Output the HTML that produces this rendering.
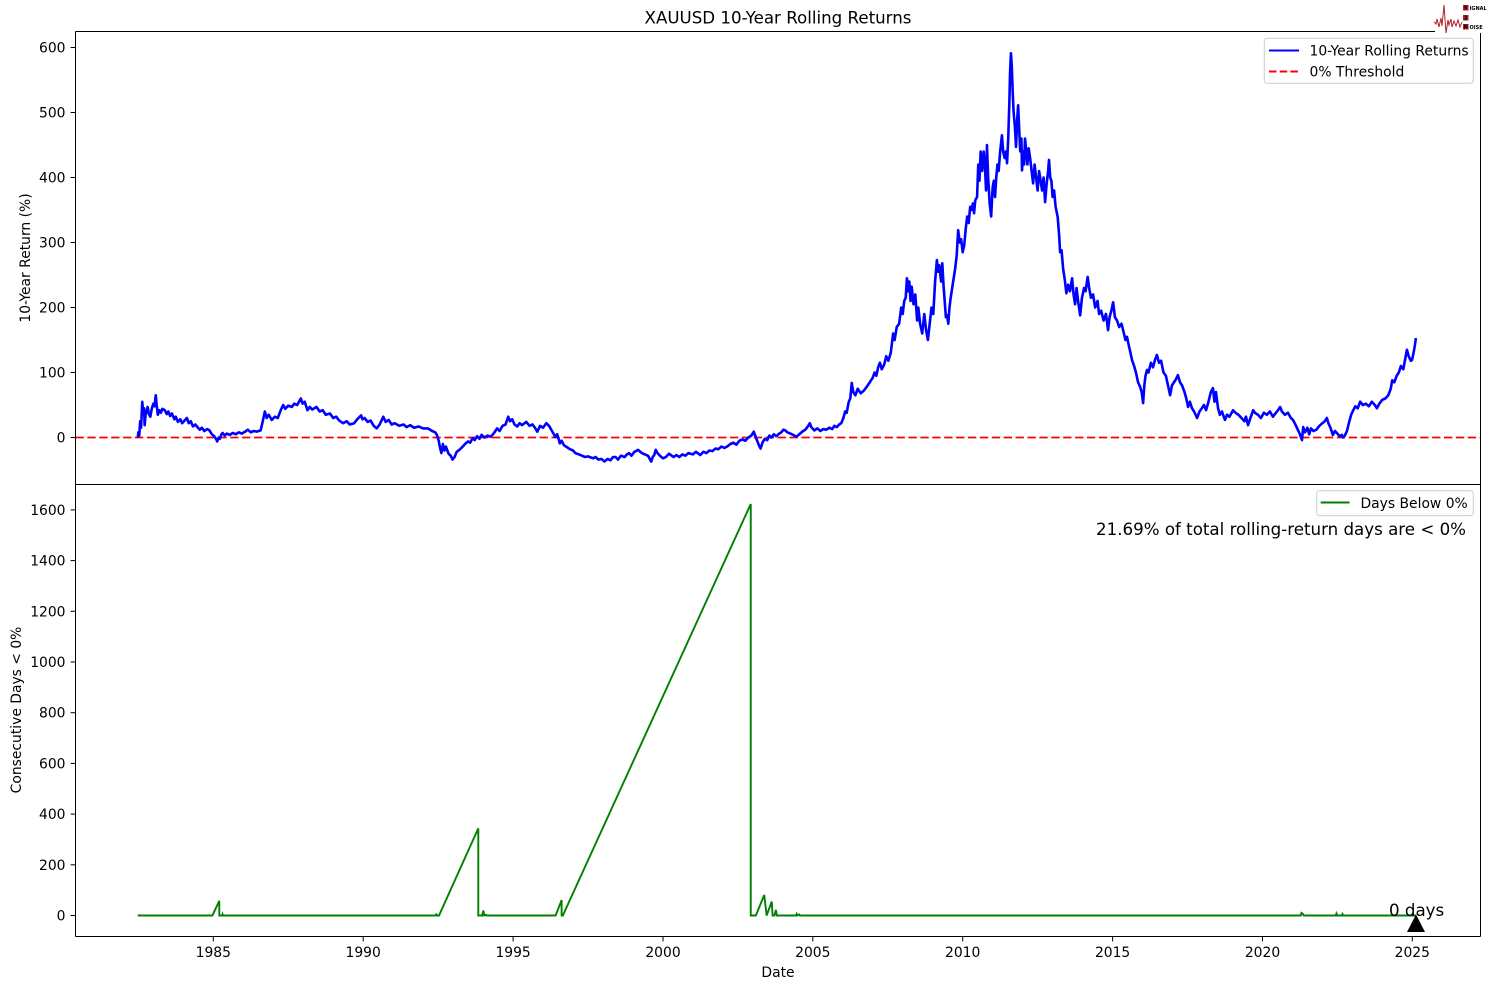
<!DOCTYPE html>
<html><head><meta charset="utf-8"><style>
html,body{margin:0;padding:0;background:#fff;}
svg{display:block;}
text{font-family:"DejaVu Sans","Liberation Sans",sans-serif;fill:#000;}
</style></head><body>
<svg width="1490" height="989" viewBox="0 0 1490 989" xmlns="http://www.w3.org/2000/svg">
<defs>
<clipPath id="ct"><rect x="75.5" y="31.5" width="1405" height="453"/></clipPath>
<clipPath id="cb"><rect x="75.5" y="484.5" width="1405" height="452"/></clipPath>
</defs>
<rect width="1490" height="989" fill="#fff"/>

<!-- title -->
<text x="778" y="23.5" font-size="16.67" text-anchor="middle">XAUUSD 10-Year Rolling Returns</text>

<!-- TOP AXES -->
<g clip-path="url(#ct)">
<line x1="75.5" y1="437.5" x2="1480.5" y2="437.5" stroke="#ff0000" stroke-width="1.8" stroke-dasharray="8.3,3.6"/>
<g transform="matrix(29.975,0,0,-0.65,213.3,437.5)">
<polyline fill="none" stroke="#0000ff" stroke-width="2.6" vector-effect="non-scaling-stroke" stroke-linejoin="round" points="
-2.52,0 -2.5,8 -2.47,3 -2.44,25 -2.41,15 -2.37,55 -2.34,38 -2.31,45 -2.29,19 -2.26,35 -2.22,42 -2.19,47 -2.15,36 -2.1,32 -2.05,45 -2.0,52 -1.96,48 -1.92,65 -1.89,50 -1.85,35 -1.8,42 -1.75,38 -1.7,44 -1.62,42 -1.55,36 -1.5,40 -1.44,33 -1.38,37 -1.3,28 -1.25,32 -1.18,24 -1.1,28 -1.04,22 -0.96,26 -0.88,30 -0.82,22 -0.75,25 -0.68,17 -0.6,20 -0.51,15 -0.45,12 -0.38,15 -0.3,10 -0.2,13 -0.13,11 -0.05,5 0.03,2 0.1,-3 0.13,-6 0.18,0 0.22,-2 0.27,5 0.31,7 0.38,3 0.45,6 0.55,4 0.65,7 0.75,5 0.85,8 0.95,6 1.06,9 1.15,12 1.25,8 1.35,10 1.45,9 1.58,11 1.65,25 1.72,40 1.78,30 1.85,35 1.95,27 2.05,32 2.15,30 2.25,42 2.33,50 2.4,44 2.5,49 2.62,47 2.7,52 2.8,50 2.92,60 2.98,52 3.05,55 3.14,42 3.22,47 3.3,43 3.44,47 3.55,40 3.65,42 3.75,35 3.89,37 4.0,30 4.1,32 4.2,26 4.33,22 4.45,25 4.55,20 4.7,22 4.8,28 4.93,34 4.98,28 5.05,30 5.15,24 5.25,26 5.35,18 5.45,14 5.55,20 5.67,32 5.75,24 5.85,27 5.95,20 6.05,22 6.2,18 6.35,20 6.45,16 6.57,19 6.7,15 6.85,17 7.0,14 7.16,14 7.3,10 7.4,8 7.46,4 7.52,-5 7.56,-15 7.61,-24 7.66,-10 7.71,-20 7.76,-14 7.85,-25 7.92,-28 7.98,-34 8.05,-30 8.12,-22 8.21,-19 8.3,-15 8.4,-10 8.5,-6 8.57,-8 8.65,-1 8.72,-4 8.8,2 8.88,-2 8.95,4 9.05,0 9.15,3 9.25,1 9.35,6 9.47,14 9.55,10 9.65,18 9.75,20 9.84,32 9.9,25 9.97,28 10.05,20 10.14,17 10.22,22 10.3,19 10.44,24 10.55,18 10.65,20 10.73,15 10.81,9 10.9,18 11.0,15 11.11,22 11.2,18 11.3,10 11.41,1 11.47,5 11.53,-4 11.56,-9 11.62,-5 11.7,-12 11.8,-15 11.9,-18 12.0,-20 12.08,-24 12.2,-26 12.3,-28 12.4,-30 12.5,-29 12.67,-32 12.75,-30 12.85,-34 12.95,-33 13.05,-37 13.15,-33 13.25,-35 13.34,-30 13.42,-30 13.5,-34 13.6,-28 13.72,-30 13.8,-26 13.87,-24 13.95,-28 14.05,-22 14.17,-19 14.3,-24 14.4,-26 14.5,-28 14.61,-37 14.66,-30 14.71,-27 14.76,-19 14.82,-24 14.9,-28 15.0,-32 15.1,-30 15.2,-25 15.36,-30 15.45,-27 15.55,-30 15.65,-26 15.75,-28 15.85,-24 16.0,-26 16.1,-22 16.25,-27 16.35,-22 16.45,-24 16.55,-20 16.65,-21 16.75,-17 16.85,-18 16.95,-14 17.05,-16 17.14,-14 17.25,-10 17.35,-8 17.45,-11 17.55,-5 17.65,-3 17.75,-5 17.85,0 17.95,3 18.03,9 18.1,0 18.17,-8 18.22,-14 18.26,-17 18.32,-8 18.4,-2 18.48,-4 18.55,3 18.62,0 18.7,5 18.78,2 18.88,6 18.95,8 19.02,12 19.08,11 19.15,8 19.25,6 19.35,4 19.45,1 19.55,5 19.65,9 19.75,12 19.85,18 19.9,22 19.95,16 20.05,11 20.15,14 20.25,10 20.35,13 20.45,12 20.55,15 20.65,13 20.72,18 20.8,16 20.88,20 20.95,22 21.02,30 21.08,40 21.13,38 21.2,55 21.25,60 21.3,84 21.35,70 21.42,65 21.5,75 21.6,68 21.7,72 21.8,78 21.9,85 22.0,92 22.06,100 22.12,95 22.18,108 22.24,115 22.3,105 22.38,112 22.45,125 22.52,118 22.6,130 22.68,160 22.73,150 22.8,170 22.88,175 22.95,200 23.0,190 23.05,210 23.1,215 23.14,245 23.18,225 23.22,240 23.26,210 23.3,232 23.36,205 23.42,220 23.48,180 23.52,200 23.58,175 23.65,160 23.72,190 23.78,165 23.84,150 23.9,175 23.96,200 24.02,190 24.08,240 24.14,273 24.18,255 24.22,265 24.28,240 24.32,268 24.36,235 24.4,210 24.44,185 24.48,188 24.52,175 24.56,200 24.6,215 24.65,230 24.7,245 24.75,260 24.8,280 24.85,319 24.9,300 24.95,305 25.0,285 25.05,295 25.1,320 25.15,340 25.2,330 25.25,355 25.3,350 25.34,360 25.38,345 25.42,365 25.48,370 25.52,420 25.56,395 25.6,440 25.65,410 25.7,440 25.74,420 25.78,380 25.81,450 25.85,400 25.9,360 25.95,340 26.0,385 26.04,395 26.08,370 26.12,400 26.16,420 26.2,410 26.25,440 26.31,465 26.35,440 26.4,430 26.44,440 26.48,422 26.52,460 26.56,520 26.58,560 26.61,591 26.64,570 26.67,530 26.7,500 26.74,480 26.78,447 26.82,490 26.85,511 26.88,480 26.92,440 26.96,460 26.98,411 27.02,440 27.05,420 27.08,460 27.12,440 27.16,420 27.2,445 27.25,430 27.3,410 27.35,391 27.4,420 27.45,400 27.5,380 27.55,410 27.6,395 27.65,380 27.7,400 27.75,362 27.8,390 27.85,410 27.88,427 27.92,400 27.96,395 28.0,370 28.05,380 28.1,355 28.17,339 28.22,310 28.25,285 28.3,288 28.35,260 28.4,245 28.46,222 28.52,235 28.58,225 28.65,245 28.7,220 28.75,205 28.8,230 28.85,210 28.92,188 28.98,215 29.05,230 29.1,225 29.17,247 29.22,230 29.28,215 29.35,220 29.42,200 29.5,210 29.55,190 29.62,195 29.7,180 29.78,190 29.85,165 29.9,185 29.96,195 30.02,208 30.08,185 30.15,180 30.22,170 30.3,175 30.38,160 30.43,150 30.48,155 30.55,140 30.6,130 30.65,119 30.72,110 30.78,100 30.85,85 30.92,78 30.97,70 31.02,53 31.06,80 31.1,95 31.15,104 31.2,100 31.28,115 31.35,108 31.42,120 31.48,127 31.55,115 31.62,118 31.7,100 31.78,95 31.85,80 31.92,65 31.98,80 32.05,85 32.12,90 32.18,96 32.25,85 32.32,80 32.4,70 32.46,60 32.52,47 32.58,55 32.65,45 32.72,40 32.82,30 32.9,40 32.98,45 33.05,50 33.12,42 33.2,55 33.28,70 33.35,76 33.4,55 33.45,70 33.52,45 33.58,35 33.65,40 33.75,27 33.82,35 33.9,32 34.02,42 34.1,38 34.2,35 34.3,30 34.4,25 34.45,32 34.52,19 34.6,30 34.69,42 34.75,38 34.85,35 34.95,30 35.05,38 35.15,35 35.25,40 35.35,32 35.45,38 35.52,42 35.59,47 35.65,40 35.75,35 35.85,38 35.95,30 36.02,27 36.1,20 36.18,12 36.25,5 36.32,-4 36.36,16 36.42,8 36.5,15 36.56,5 36.62,14 36.7,10 36.8,12 36.9,18 37.0,22 37.08,25 37.15,30 37.2,22 37.27,15 37.35,4 37.42,10 37.5,6 37.58,2 37.65,4 37.69,0 37.75,3 37.82,10 37.9,25 37.96,35 38.03,42 38.1,48 38.18,45 38.26,55 38.35,50 38.45,52 38.55,48 38.65,55 38.75,50 38.82,45 38.9,52 39.0,58 39.1,60 39.2,65 39.28,75 39.33,88 39.4,85 39.48,95 39.55,100 39.62,110 39.7,105 39.76,120 39.82,135 39.88,125 39.95,118 39.99,119 40.04,130 40.08,140 40.12,153"/>
</g>
</g>

<!-- BOTTOM AXES -->
<g clip-path="url(#cb)">
<g transform="matrix(29.975,0,0,-0.2534,213.3,915.5)">
<polyline fill="none" stroke="#008000" stroke-width="1.9" vector-effect="non-scaling-stroke" stroke-linejoin="miter" points="
-2.52,0 -0.03,0 0.2,58 0.2,0 0.3,0 0.31,4 0.32,0 7.43,0 7.44,8 7.45,0 7.53,0 8.84,344 8.84,0 8.97,0 9.01,20 9.04,0 9.1,3 9.12,0 11.42,0 11.62,61 11.62,0 11.66,0 17.93,1624 17.93,0 18.1,0 18.38,81 18.46,0 18.63,55 18.66,0 18.72,0 18.77,22 18.8,0 19.44,0 19.46,6 19.48,0 19.55,4 19.57,0 36.28,0 36.3,10 36.35,6 36.38,0 37.45,0 37.47,8 37.5,0 37.65,0 37.67,6 37.7,0 40.12,0"/>
</g>
</g>

<!-- axes frames -->
<g fill="none" stroke="#000" stroke-width="1">
<line x1="75.5" y1="31.5" x2="1480.5" y2="31.5"/>
<line x1="75.5" y1="484.5" x2="1480.5" y2="484.5"/>
<line x1="75.5" y1="936.5" x2="1480.5" y2="936.5"/>
<line x1="75.5" y1="31.5" x2="75.5" y2="936.5"/>
<line x1="1480.5" y1="31.5" x2="1480.5" y2="936.5"/>
</g>

<!-- top y ticks -->
<g stroke="#000" stroke-width="1">
<line x1="70.6" y1="47.5" x2="75.5" y2="47.5"/>
<line x1="70.6" y1="112.5" x2="75.5" y2="112.5"/>
<line x1="70.6" y1="177.5" x2="75.5" y2="177.5"/>
<line x1="70.6" y1="242.5" x2="75.5" y2="242.5"/>
<line x1="70.6" y1="307.5" x2="75.5" y2="307.5"/>
<line x1="70.6" y1="372.5" x2="75.5" y2="372.5"/>
<line x1="70.6" y1="437.5" x2="75.5" y2="437.5"/>
</g>
<g font-size="13.89" text-anchor="end">
<text x="65.5" y="52.5">600</text>
<text x="65.5" y="117.5">500</text>
<text x="65.5" y="182.5">400</text>
<text x="65.5" y="247.5">300</text>
<text x="65.5" y="312.5">200</text>
<text x="65.5" y="377.5">100</text>
<text x="65.5" y="442.5">0</text>
</g>
<text transform="translate(30,258) rotate(-90)" font-size="13.89" text-anchor="middle">10-Year Return (%)</text>

<!-- top legend -->
<rect x="1264.3" y="38.3" width="209" height="45" rx="3" fill="#fff" fill-opacity="0.8" stroke="#cccccc" stroke-width="1"/>
<line x1="1269" y1="50.5" x2="1299" y2="50.5" stroke="#0000ff" stroke-width="2"/>
<text x="1309.5" y="55.5" font-size="13.89">10-Year Rolling Returns</text>
<line x1="1269" y1="71.5" x2="1299" y2="71.5" stroke="#ff0000" stroke-width="2" stroke-dasharray="7.5,3.2"/>
<text x="1309.5" y="76.5" font-size="13.89">0% Threshold</text>

<!-- bottom y ticks -->
<g stroke="#000" stroke-width="1">
<line x1="70.6" y1="915.5" x2="75.5" y2="915.5"/>
<line x1="70.6" y1="864.8" x2="75.5" y2="864.8"/>
<line x1="70.6" y1="814.1" x2="75.5" y2="814.1"/>
<line x1="70.6" y1="763.4" x2="75.5" y2="763.4"/>
<line x1="70.6" y1="712.7" x2="75.5" y2="712.7"/>
<line x1="70.6" y1="662.0" x2="75.5" y2="662.0"/>
<line x1="70.6" y1="611.3" x2="75.5" y2="611.3"/>
<line x1="70.6" y1="560.6" x2="75.5" y2="560.6"/>
<line x1="70.6" y1="509.9" x2="75.5" y2="509.9"/>
</g>
<g font-size="13.89" text-anchor="end">
<text x="65.5" y="920.5">0</text>
<text x="65.5" y="869.8">200</text>
<text x="65.5" y="819.1">400</text>
<text x="65.5" y="768.4">600</text>
<text x="65.5" y="717.7">800</text>
<text x="65.5" y="667.0">1000</text>
<text x="65.5" y="616.3">1200</text>
<text x="65.5" y="565.6">1400</text>
<text x="65.5" y="514.9">1600</text>
</g>
<text transform="translate(21,710) rotate(-90)" font-size="13.89" text-anchor="middle">Consecutive Days &lt; 0%</text>

<!-- x ticks -->
<g stroke="#000" stroke-width="1">
<line x1="213.3" y1="936.5" x2="213.3" y2="941.4"/>
<line x1="363.2" y1="936.5" x2="363.2" y2="941.4"/>
<line x1="513.1" y1="936.5" x2="513.1" y2="941.4"/>
<line x1="663.0" y1="936.5" x2="663.0" y2="941.4"/>
<line x1="812.8" y1="936.5" x2="812.8" y2="941.4"/>
<line x1="962.7" y1="936.5" x2="962.7" y2="941.4"/>
<line x1="1112.6" y1="936.5" x2="1112.6" y2="941.4"/>
<line x1="1262.5" y1="936.5" x2="1262.5" y2="941.4"/>
<line x1="1412.3" y1="936.5" x2="1412.3" y2="941.4"/>
</g>
<g font-size="13.89" text-anchor="middle">
<text x="213.3" y="957">1985</text>
<text x="363.2" y="957">1990</text>
<text x="513.1" y="957">1995</text>
<text x="663.0" y="957">2000</text>
<text x="812.8" y="957">2005</text>
<text x="962.7" y="957">2010</text>
<text x="1112.6" y="957">2015</text>
<text x="1262.5" y="957">2020</text>
<text x="1412.3" y="957">2025</text>
</g>
<text x="778" y="977" font-size="13.89" text-anchor="middle">Date</text>

<!-- bottom legend -->
<rect x="1316.7" y="490.7" width="156.6" height="25" rx="3" fill="#fff" fill-opacity="0.8" stroke="#cccccc" stroke-width="1"/>
<line x1="1320.7" y1="502.5" x2="1349.5" y2="502.5" stroke="#008000" stroke-width="2"/>
<text x="1360.5" y="508" font-size="13.89">Days Below 0%</text>

<!-- annotation -->
<text x="1466" y="535" font-size="16.67" text-anchor="end">21.69% of total rolling-return days are &lt; 0%</text>

<!-- marker + label -->
<text x="1389" y="916" font-size="16.67">0 days</text>
<polygon points="1416,914.5 1407,932 1425,932" fill="#000"/>

<!-- logo -->
<rect x="1435" y="0" width="55" height="33" fill="#fff"/>
<polyline fill="none" stroke="#b0202a" stroke-width="1" points="1434,22 1436,24 1437,19 1439,27 1441,18 1442,26 1444,5 1446,33 1448,20 1449,25 1451,19 1452,27 1454,21 1456,26 1458,20 1460,27 1462,22"/>
<rect x="1463" y="5" width="5.5" height="5.5" fill="#b0202a"/>
<rect x="1463" y="15" width="5.5" height="5.5" fill="#b0202a"/>
<rect x="1463" y="24" width="5.5" height="5.5" fill="#b0202a"/>
<text x="1465.7" y="9.6" font-size="5" font-weight="bold" fill="#fff" text-anchor="middle">S</text>
<text x="1465.7" y="19.6" font-size="5" font-weight="bold" fill="#fff" text-anchor="middle">2</text>
<text x="1465.7" y="28.6" font-size="5" font-weight="bold" fill="#fff" text-anchor="middle">N</text>
<text x="1469.5" y="10" font-size="5" font-weight="bold" fill="#333">IGNAL</text>
<text x="1469.5" y="29" font-size="5" font-weight="bold" fill="#333">OISE</text>
</svg>
</body></html>
